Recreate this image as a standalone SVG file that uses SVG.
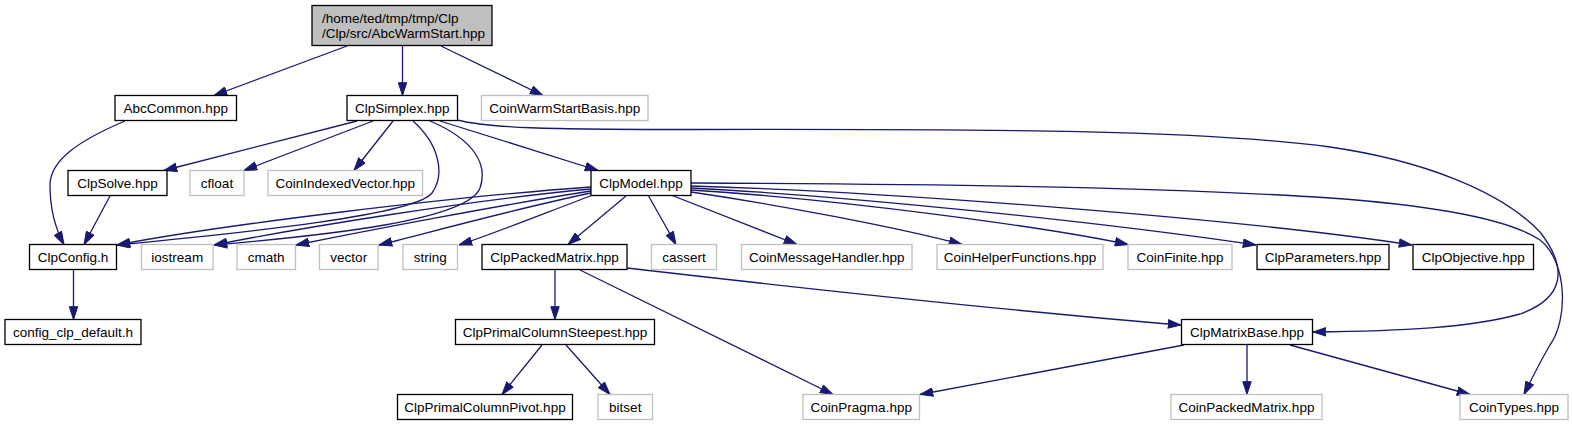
<svg xmlns="http://www.w3.org/2000/svg" width="1572" height="425" viewBox="0 0 1572 425">
<style>
text{font-family:"Liberation Sans",Arial,Helvetica,sans-serif;font-size:13.5px;fill:#000;text-anchor:middle}
.n rect{fill:#fff;stroke:#000;stroke-width:1.3}
.g rect{fill:#fff;stroke:#bfbfbf;stroke-width:1.3}
.e path{fill:none;stroke:#191970;stroke-width:1.3;marker-end:url(#a)}
</style>
<defs>
<marker id="a" markerUnits="userSpaceOnUse" viewBox="0 0 13.3 9.4" refX="13.3" refY="4.7" markerWidth="13.3" markerHeight="9.4" orient="auto">
<path d="M0.5,0.5 L13.3,4.7 L0.5,8.9 z" fill="#191970" stroke="#191970" stroke-width="1"/>
</marker>
</defs>
<rect width="1572" height="425" fill="#fff"/>
<g id="edges" class="e">
<path d="M347,46 L214,95.5"/>
<path d="M402.5,46 L402.5,95.5"/>
<path d="M441,46 L543,95.5"/>
<path d="M125,121 C80,140 50,160 50,185 C50,210 55,228 64,244.5"/>
<path d="M357,121 L164,170.5"/>
<path d="M373,121 L244,170.5"/>
<path d="M393,121 L354,170.5"/>
<path d="M413,121 C440,145 445,175 432,193 C415,215 250,232 117,245"/>
<path d="M430,121 C475,140 488,165 480,188 C468,220 330,235 214,245"/>
<path d="M440,121 L598,170.5"/>
<path d="M457,120 C490,128 540,129.5 700,129.5 C1000,129 1200,130 1330,147 C1420,160 1500,190 1540,232 C1568,268 1565,298 1520,314 C1470,328 1400,331 1313,332"/>
<path d="M110,196 L84,244.5"/>
<path d="M591,187 C450,197 220,225 117,245"/>
<path d="M591,189 C470,200 300,228 214,245"/>
<path d="M591,191 C500,205 360,232 296,245"/>
<path d="M591,193 C510,210 420,235 379,245"/>
<path d="M593,195 C540,215 490,235 459,245"/>
<path d="M626,196 L568,244.5"/>
<path d="M648,195 L676,244.5"/>
<path d="M671,195 L797,244.5"/>
<path d="M691,192 C780,205 900,228 962,244.5"/>
<path d="M691,190 C850,200 1050,228 1128,244.5"/>
<path d="M691,188 C850,196 1100,222 1256,245"/>
<path d="M691,186 C900,192 1250,220 1412,245"/>
<path d="M691,183 C900,184 1150,186 1330,198 C1440,206 1510,220 1540,240 C1568,262 1568,320 1550,345 C1540,362 1532,378 1524,394.5"/>
<path d="M73.5,270 L73.5,319.5"/>
<path d="M555,270 L555,319.5"/>
<path d="M580,270 L833,394.5"/>
<path d="M627,268 C800,288 1000,310 1181,325"/>
<path d="M542,345 L502,394.5"/>
<path d="M566,345 L610,394.5"/>
<path d="M1184,345 L920,394.5"/>
<path d="M1247,345 L1247,394.5"/>
<path d="M1290,345 L1470,394.5"/>
</g>
<g id="n_root" class="n"><rect x="312" y="5.5" width="180" height="40" style="fill:#bfbfbf"/><text x="322" y="22.5" style="text-anchor:start">/home/ted/tmp/tmp/Clp</text><text x="322" y="37.5" style="text-anchor:start">/Clp/src/AbcWarmStart.hpp</text></g>
<g id="n_AbcCommon" class="n"><rect x="115" y="95.5" width="121.5" height="25"/><text x="175.75" y="112.5">AbcCommon.hpp</text></g>
<g id="n_ClpSimplex" class="n"><rect x="347" y="95.5" width="110.5" height="25"/><text x="402.25" y="112.5">ClpSimplex.hpp</text></g>
<g id="n_CoinWarmStartBasis" class="g"><rect x="481.5" y="95.5" width="166.5" height="25"/><text x="564.75" y="112.5">CoinWarmStartBasis.hpp</text></g>
<g id="n_ClpSolve" class="n"><rect x="68" y="170.5" width="99" height="25"/><text x="117.5" y="187.5">ClpSolve.hpp</text></g>
<g id="n_cfloat" class="g"><rect x="190" y="170.5" width="54" height="25"/><text x="217" y="187.5">cfloat</text></g>
<g id="n_CoinIndexedVector" class="g"><rect x="268" y="170.5" width="154.5" height="25"/><text x="345.25" y="187.5">CoinIndexedVector.hpp</text></g>
<g id="n_ClpModel" class="n"><rect x="591" y="170.5" width="100" height="25"/><text x="641" y="187.5">ClpModel.hpp</text></g>
<g id="n_ClpConfig" class="n"><rect x="29.5" y="244.5" width="87" height="25"/><text x="73" y="261.5">ClpConfig.h</text></g>
<g id="n_iostream" class="g"><rect x="141.5" y="244.5" width="71.5" height="25"/><text x="177.25" y="261.5">iostream</text></g>
<g id="n_cmath" class="g"><rect x="237" y="244.5" width="58.5" height="25"/><text x="266.25" y="261.5">cmath</text></g>
<g id="n_vector" class="g"><rect x="319.5" y="244.5" width="58.5" height="25"/><text x="348.75" y="261.5">vector</text></g>
<g id="n_string" class="g"><rect x="403" y="244.5" width="54.5" height="25"/><text x="430.25" y="261.5">string</text></g>
<g id="n_ClpPackedMatrix" class="n"><rect x="482" y="244.5" width="145" height="25"/><text x="554.5" y="261.5">ClpPackedMatrix.hpp</text></g>
<g id="n_cassert" class="g"><rect x="651.5" y="244.5" width="65" height="25"/><text x="684" y="261.5">cassert</text></g>
<g id="n_CoinMessageHandler" class="g"><rect x="741.5" y="244.5" width="170.5" height="25"/><text x="826.75" y="261.5">CoinMessageHandler.hpp</text></g>
<g id="n_CoinHelperFunctions" class="g"><rect x="937" y="244.5" width="166" height="25"/><text x="1020" y="261.5">CoinHelperFunctions.hpp</text></g>
<g id="n_CoinFinite" class="g"><rect x="1128" y="244.5" width="104" height="25"/><text x="1180" y="261.5">CoinFinite.hpp</text></g>
<g id="n_ClpParameters" class="n"><rect x="1257" y="244.5" width="132" height="25"/><text x="1323" y="261.5">ClpParameters.hpp</text></g>
<g id="n_ClpObjective" class="n"><rect x="1413" y="244.5" width="120.5" height="25"/><text x="1473.25" y="261.5">ClpObjective.hpp</text></g>
<g id="n_config_clp_default" class="n"><rect x="5" y="319.5" width="136" height="25"/><text x="73" y="336.5">config_clp_default.h</text></g>
<g id="n_ClpPrimalColumnSteepest" class="n"><rect x="455.5" y="319.5" width="199" height="25"/><text x="555" y="336.5">ClpPrimalColumnSteepest.hpp</text></g>
<g id="n_ClpMatrixBase" class="n"><rect x="1181.5" y="319.5" width="131" height="25"/><text x="1247" y="336.5">ClpMatrixBase.hpp</text></g>
<g id="n_ClpPrimalColumnPivot" class="n"><rect x="397.5" y="394.5" width="175" height="25"/><text x="485" y="411.5">ClpPrimalColumnPivot.hpp</text></g>
<g id="n_bitset" class="g"><rect x="598" y="394.5" width="54.5" height="25"/><text x="625.25" y="411.5">bitset</text></g>
<g id="n_CoinPragma" class="g"><rect x="803" y="394.5" width="116.5" height="25"/><text x="861.25" y="411.5">CoinPragma.hpp</text></g>
<g id="n_CoinPackedMatrix" class="g"><rect x="1171" y="394.5" width="151" height="25"/><text x="1246.5" y="411.5">CoinPackedMatrix.hpp</text></g>
<g id="n_CoinTypes" class="g"><rect x="1460" y="394.5" width="108" height="25"/><text x="1514" y="411.5">CoinTypes.hpp</text></g>
</svg>
